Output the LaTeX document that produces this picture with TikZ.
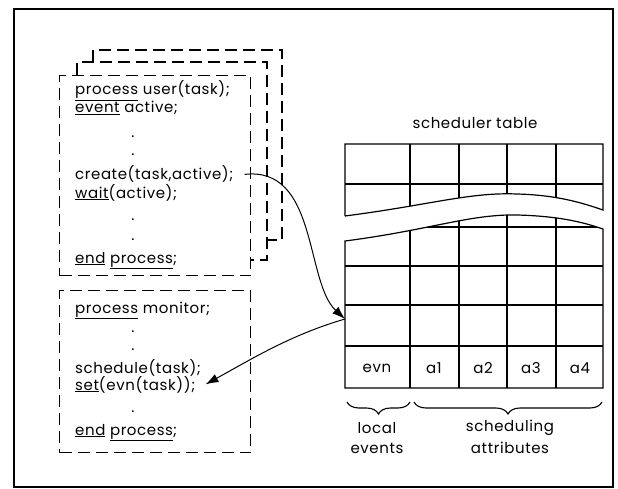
\documentclass[tikz,border=0pt]{standalone}
\usepackage{fontspec}
\setmainfont{Poppins}[LetterSpace=4]
\usetikzlibrary{arrows.meta,decorations.pathreplacing}
\newcommand{\kw}[1]{\underline{#1}}
\tikzset{
  frame/.style={line width=1.6pt},
  dashbox/.style={line width=1.1pt, dash pattern=on 12pt off 6pt},
  txt/.style={inner sep=0pt, font=\fontsize{15}{17}\selectfont},
  codeline/.style={txt, anchor=base west},
  dotline/.style={txt},
  grid/.style={line width=1.2pt},
  cell/.style={txt},
  caption/.style={txt},
  flow/.style={line width=1pt, -{Latex[length=13pt,width=9pt]}},
  brc/.style={line width=1.1pt, decorate, decoration={brace, amplitude=12pt}},
}
\begin{document}
\begin{tikzpicture}[x=1pt,y=-1pt]
\useasboundingbox (0,0) rectangle (618,489);
\draw[frame] (14,9) rectangle (613,487);

% pages stacked behind the user process
\draw[dashbox] (93,62) -- (93,50) -- (282,50) -- (282,240) -- (267,240);
\draw[dashbox] (77,75) -- (77,62) -- (267,62) -- (267,260) -- (250,260);
\node[dashbox, draw, anchor=north west, minimum width=191pt, minimum height=200pt, inner sep=0pt] (userbox) at (59,75) {};

% user process text
\node[codeline] (u1) at (75,95) {\kw{process} user(task);};
\node[codeline] (u2) at (75,113) {\kw{event} active;};
\node[dotline] (u3) at (133,137) {.};
\node[dotline] (u4) at (133,155) {.};
\node[codeline] (create) at (75,180) {create(task,active);};
\node[codeline] (u6) at (75,198) {\kw{wait}(active);};
\node[dotline] (u7) at (133,220) {.};
\node[dotline] (u8) at (133,240) {.};
\node[codeline] (u9) at (75,263) {\kw{end} \kw{process};};

% monitor process
\node[dashbox, draw, anchor=north west, minimum width=191pt, minimum height=162pt, inner sep=0pt] (monbox) at (59,290) {};
\node[codeline] (m1) at (75,313) {\kw{process} monitor;};
\node[dotline] (m2) at (133,332) {.};
\node[dotline] (m3) at (133,350) {.};
\node[codeline] (m4) at (75,373) {schedule(task);};
\node[codeline] (setl) at (75,390) {\kw{set}(evn(task));};
\node[dotline] (m6) at (133,412) {.};
\node[codeline] (m7) at (75,435) {\kw{end} \kw{process};};

% scheduler table
\node[caption] (title) at (475,123) {scheduler table};

% upper part of the table, cut off by a wave
\begin{scope}
  \clip (345,144) -- (603,144) -- (603,210)
        .. controls (580,202) and (555,195) .. (517,194)
        .. controls (470,192) and (430,205) .. (345,216) -- cycle;
  \foreach \x in {410,459,507,556} \draw[grid] (\x,144) -- (\x,230);
  \draw[grid] (345,184) -- (603,184);
\end{scope}
\draw[grid] (345,216) -- (345,144) -- (603,144) -- (603,210)
      .. controls (580,202) and (555,195) .. (517,194)
      .. controls (470,192) and (430,205) .. (345,216);

% lower part of the table
\begin{scope}
  \clip (345,241) .. controls (430,230) and (470,214) .. (517,215)
        .. controls (555,216) and (580,221) .. (603,229)
        -- (603,388) -- (345,388) -- cycle;
  \foreach \x in {410,459,507,556} \draw[grid] (\x,200) -- (\x,388);
  \draw[grid] (345,227) -- (603,227);
\end{scope}
\foreach \y in {266,305,346} \draw[grid] (345,\y) -- (603,\y);
\draw[grid] (345,241) .. controls (430,230) and (470,214) .. (517,215)
      .. controls (555,216) and (580,221) .. (603,229)
      -- (603,388) -- (345,388) -- cycle;

% bottom row labels
\node[cell] (evn) at (377,368) {evn};
\node[cell] (a1) at (434,368) {a1};
\node[cell] (a2) at (483,368) {a2};
\node[cell] (a3) at (531,368) {a3};
\node[cell] (a4) at (580,368) {a4};

% entry point on the table's left edge
\coordinate (rowin) at (345,319);

% connectors
\draw[flow] ([xshift=11pt]create.east) .. controls (318,166) and (305,282) .. (rowin);
\draw[flow] (rowin) .. controls (290,335) and (250,360) .. ([xshift=10pt]setl.east);

% braces under the table
\draw[brc] (410,402) -- (347,402);
\draw[brc] (602,402) -- (414,402);
\node[caption] (local) at (377,428) {local};
\node[caption] (events) at (377,448) {events};
\node[caption] (sched) at (510,428) {scheduling};
\node[caption] (attr) at (510,448) {attributes};
\end{tikzpicture}
\end{document}
